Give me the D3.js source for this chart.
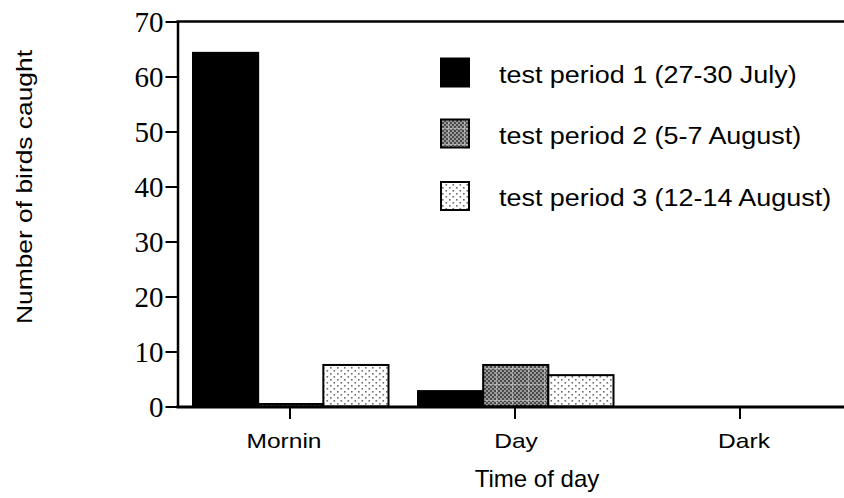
<!DOCTYPE html>
<html>
<head>
<meta charset="utf-8">
<script src="https://cdn.jsdelivr.net/npm/d3@7/dist/d3.min.js"></script>
<style>
  html, body { margin: 0; padding: 0; background: #fff; }
  svg { display: block; }
</style>
</head>
<body>
<svg id="chart" width="844" height="498"></svg>
<script>
// ---- Data ----
const categories = ["Mornin", "Day", "Dark"];
const seriesNames = ["test period 1 (27-30 July)", "test period 2 (5-7 August)", "test period 3 (12-14 August)"];
const period1 = [64.3, 2.8, 0];
const period2 = [0.45, 7.55, 0];
const period3 = [7.55, 5.7, 0];
const yTicks = [0, 10, 20, 30, 40, 50, 60, 70];

const seriesValues = [period1, period2, period3];

const svg = d3.select("#chart");
const W = 844, H = 498;

// ---- Patterns ----
const defs = svg.append("defs");
const pat2 = defs.append("pattern").attr("id", "pat2").attr("patternUnits", "userSpaceOnUse")
  .attr("width", 16).attr("height", 16);
pat2.append("rect").attr("width", 16).attr("height", 16).attr("fill", "#9a9a9a");
for (let i = 0; i < 8; i++) for (let j = 0; j < 8; j++) {
  if ((i + j) % 2 === 0) pat2.append("rect").attr("x", i * 2).attr("y", j * 2).attr("width", 2).attr("height", 2).attr("fill", "#4a4a4a");
}
pat2.append("rect").attr("x", 0).attr("y", 0).attr("width", 16).attr("height", 1).attr("fill", "#c8c8c8").attr("opacity", 0.6);
pat2.append("rect").attr("x", 0).attr("y", 0).attr("width", 1).attr("height", 16).attr("fill", "#c8c8c8").attr("opacity", 0.6);

const pat3 = defs.append("pattern").attr("id", "pat3").attr("patternUnits", "userSpaceOnUse")
  .attr("width", 7).attr("height", 6);
pat3.append("rect").attr("width", 7).attr("height", 6).attr("fill", "#fff");
pat3.append("rect").attr("x", 1).attr("y", 1).attr("width", 1.6).attr("height", 1.6).attr("fill", "#6e6e6e");
pat3.append("rect").attr("x", 4.5).attr("y", 4).attr("width", 1.6).attr("height", 1.6).attr("fill", "#6e6e6e");

const fills = ["#000", "url(#pat2)", "url(#pat3)"];

// ---- Scales ----
const x0 = 177.5, yTop = 21.5, yBottom = 406.5;
const y = d3.scaleLinear().domain([0, 70]).range([yBottom, yTop]);
const x = d3.scaleBand().domain(categories).range([x0, x0 + 675]).padding(0);
const x1 = d3.scaleBand().domain(d3.range(seriesNames.length)).range([15.5, 211]).padding(0);

// ---- Bars ----
const barData = [];
categories.forEach((c, ci) => {
  seriesValues.forEach((vals, si) => {
    barData.push({ cat: c, s: si, v: vals[ci] });
  });
});
svg.append("g").selectAll("rect").data(barData.filter(d => d.v > 0)).join("rect")
  .attr("x", d => x(d.cat) + x1(d.s))
  .attr("y", d => y(d.v))
  .attr("width", x1.bandwidth())
  .attr("height", d => y(0) - y(d.v))
  .attr("fill", d => fills[d.s])
  .attr("stroke", "#000")
  .attr("stroke-width", 2);

// ---- Frame lines ----
svg.append("line").attr("x1", x0 - 1).attr("x2", W).attr("y1", yTop).attr("y2", yTop)
  .attr("stroke", "#000").attr("stroke-width", 2.5);
svg.append("line").attr("x1", x0 - 1).attr("x2", W).attr("y1", yBottom + 0.5).attr("y2", yBottom + 0.5)
  .attr("stroke", "#000").attr("stroke-width", 3);

// ---- Y axis ----
const yAxis = svg.append("g").attr("transform", `translate(${x0},0)`)
  .call(d3.axisLeft(y).tickValues(yTicks).tickSize(12).tickPadding(2).tickSizeOuter(0));
yAxis.select(".domain").attr("stroke-width", 2.5);
yAxis.selectAll(".tick line").attr("stroke-width", 2);
yAxis.selectAll(".tick text")
  .attr("font-family", "'Liberation Serif', 'Times New Roman', serif")
  .attr("font-size", 29).attr("fill", "#000").attr("dy", "0.34em");

// ---- X axis ----
const xAxis = svg.append("g").attr("transform", `translate(0,${yBottom + 0.5})`)
  .call(d3.axisBottom(x).tickSize(12).tickSizeOuter(0).tickFormat(""));
xAxis.select(".domain").remove();
xAxis.selectAll(".tick line").attr("stroke-width", 2);

const labelDx = { "Mornin": -6, "Day": 1, "Dark": 4 };
svg.append("g").selectAll("text").data(categories).join("text")
  .attr("x", d => x(d) + x.bandwidth() / 2 + labelDx[d])
  .attr("y", 448)
  .attr("text-anchor", "middle")
  .attr("font-family", "'Liberation Sans', Arial, sans-serif")
  .attr("font-size", 21)
  .attr("fill", "#000")
  .text(d => d)
  .each(function() { const l = this.getComputedTextLength(); d3.select(this).attr("textLength", l * 1.17).attr("lengthAdjust", "spacingAndGlyphs"); });

// ---- Axis titles ----
svg.append("text")
  .attr("x", 537).attr("y", 487)
  .attr("text-anchor", "middle")
  .attr("font-family", "'Liberation Sans', Arial, sans-serif")
  .attr("font-size", 24).attr("fill", "#000")
  .text("Time of day");

svg.append("text")
  .attr("transform", "translate(32,187) rotate(-90)")
  .attr("text-anchor", "middle")
  .attr("font-family", "'Liberation Sans', Arial, sans-serif")
  .attr("font-size", 22).attr("fill", "#000")
  .text("Number of birds caught")
  .each(function() { d3.select(this).attr("textLength", 274).attr("lengthAdjust", "spacingAndGlyphs"); });

// ---- Legend ----
const legendRows = [72.5, 133.5, 196];
const legend = svg.append("g");
seriesNames.forEach((name, i) => {
  legend.append("rect")
    .attr("x", 441).attr("y", legendRows[i] - 14)
    .attr("width", 28).attr("height", 28)
    .attr("fill", fills[i]).attr("stroke", "#000").attr("stroke-width", 2);
  legend.append("text")
    .attr("x", 499).attr("y", legendRows[i] + 10)
    .attr("font-family", "'Liberation Sans', Arial, sans-serif")
    .attr("font-size", 23).attr("fill", "#000")
    .text(name)
    .each(function() { const l = this.getComputedTextLength(); d3.select(this).attr("textLength", l * 1.17).attr("lengthAdjust", "spacingAndGlyphs"); });
});
</script>
</body>
</html>
